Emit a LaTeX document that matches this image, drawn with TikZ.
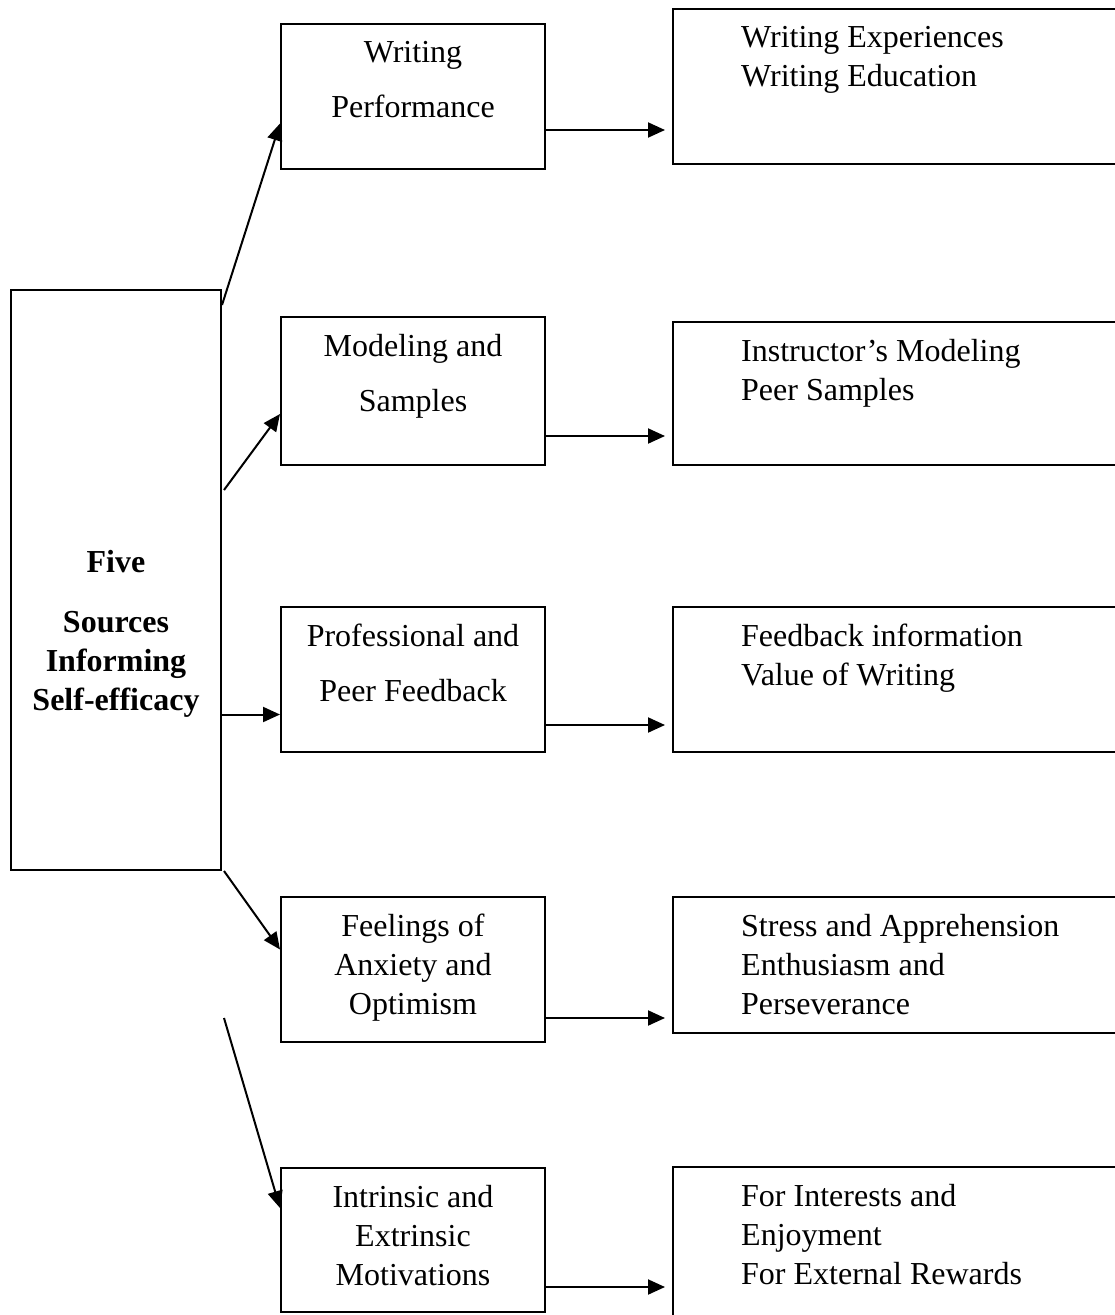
\documentclass[tikz,border=0pt]{standalone}
\usepackage{fontspec}
\setmainfont{Liberation Serif}
\usepackage{tikz}
\usetikzlibrary{arrows.meta, positioning, calc}
\tikzset{
  block/.style={rectangle, draw=black, line width=2pt, inner sep=0pt,
    minimum width=264pt, anchor=north west},
  outblock/.style={rectangle, draw=black, line width=2pt, inner sep=0pt,
    minimum width=460pt, anchor=north west},
  srcblock/.style={rectangle, draw=black, line width=2pt, inner sep=0pt,
    minimum width=210pt, minimum height=580pt, anchor=north west},
  widetext/.style={anchor=north, align=center, inner sep=0pt,
    font=\fontsize{32}{55}\selectfont},
  tighttext/.style={anchor=north, align=center, inner sep=0pt,
    font=\fontsize{32}{39}\selectfont},
  outtext/.style={anchor=north west, align=left, inner sep=0pt,
    font=\fontsize{32}{39}\selectfont},
  arrow/.style={-{Triangle[length=17pt, width=15pt]}, line width=2pt}
}

\begin{document}
\begin{tikzpicture}[x=1pt, y=-1pt]
  \useasboundingbox (0,0) rectangle (1115,1315);

  \node[srcblock] (src) at (10,289) {};
  \node[tighttext, font=\bfseries\fontsize{32}{39}\selectfont] (src-t)
    at ([yshift=-261pt]src.north) {Five\\[21pt]Sources\\Informing\\Self-efficacy};

  \node[block, minimum height=145pt] (perf) at (280,23) {};
  \node[block, minimum height=148pt] (model) at (280,316) {};
  \node[block, minimum height=145pt] (prof) at (280,606) {};
  \node[block, minimum height=145pt] (feel) at (280,896) {};
  \node[block, minimum height=144pt] (motiv) at (280,1167) {};

  \node[widetext] (perf-t) at ([yshift=-18pt]perf.north) {Writing\\Performance};
  \node[widetext] (model-t) at ([yshift=-18pt]model.north) {Modeling and\\Samples};
  \node[widetext] (prof-t) at ([yshift=-18pt]prof.north) {Professional and\\Peer Feedback};
  \node[tighttext] (feel-t) at ([yshift=-18pt]feel.north) {Feelings of\\Anxiety and\\Optimism};
  \node[tighttext] (motiv-t) at ([yshift=-18pt]motiv.north) {Intrinsic and\\Extrinsic\\Motivations};

  \node[outblock, minimum height=155pt] (wexp) at (672,8) {};
  \node[outblock, minimum height=143pt] (instr) at (672,321) {};
  \node[outblock, minimum height=145pt] (fdbk) at (672,606) {};
  \node[outblock, minimum height=136pt] (stress) at (672,896) {};
  \node[outblock, minimum height=170pt] (inter) at (672,1166) {};

  \node[outtext] (wexp-t) at ([xshift=69pt, yshift=-18pt]wexp.north west)
    {Writing Experiences\\Writing Education};
  \node[outtext] (instr-t) at ([xshift=69pt, yshift=-18pt]instr.north west)
    {Instructor's Modeling\\Peer Samples};
  \node[outtext] (fdbk-t) at ([xshift=69pt, yshift=-18pt]fdbk.north west)
    {Feedback information\\Value of Writing};
  \node[outtext] (stress-t) at ([xshift=69pt, yshift=-18pt]stress.north west)
    {Stress and Apprehension\\Enthusiasm and\\Perseverance};
  \node[outtext] (inter-t) at ([xshift=69pt, yshift=-18pt]inter.north west)
    {For Interests and\\Enjoyment\\For External Rewards};

  \draw[arrow] ([yshift=-16pt]src.north east) -- ([yshift=-27pt]perf.west);
  \draw[arrow] ([xshift=2pt, yshift=-201pt]src.north east) -- ([yshift=-23pt]model.west);
  \coordinate (p3) at ([yshift=-35pt]prof.west);
  \draw[arrow] (src.east |- p3) -- (p3);
  \draw[arrow] ([xshift=2pt]src.south east) -- ([yshift=20pt]feel.west);
  \draw[arrow] ([xshift=2pt, yshift=-147pt]src.south east) -- ([yshift=32pt]motiv.west);

  \foreach \a/\b/\d in {perf/wexp/40pt, model/instr/30pt, prof/fdbk/28pt,
    feel/stress/25pt, motiv/inter/26pt}{
    \coordinate (\a-o) at ([yshift=\d]\a.south east);
    \draw[arrow, shorten >=7pt] (\a-o) -- (\a-o -| \b.west);
  }
\end{tikzpicture}
\end{document}
